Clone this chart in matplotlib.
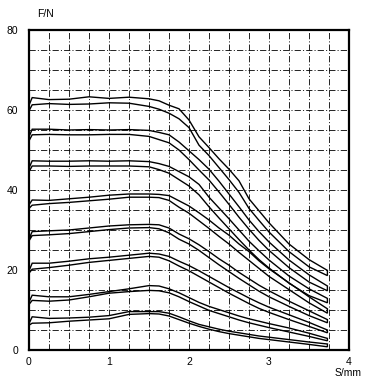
import matplotlib
matplotlib.use("Agg")
import matplotlib.pyplot as plt
from matplotlib.ticker import MultipleLocator

plt.rcParams['font.family'] = ['Liberation Sans', 'DejaVu Sans']
plt.rcParams['lines.scale_dashes'] = False

# common displacement grid (mm)
s_mm = [0.0, 0.04, 0.25, 0.5, 0.75, 1.0, 1.25, 1.5, 1.625, 1.75, 1.875, 2.0,
        2.125, 2.25, 2.375, 2.5, 2.625, 2.75, 2.875, 3.0, 3.25, 3.5, 3.73]

# force (N), upper and lower branch of each loop
f1_up = [61.2, 63.1, 62.6, 62.7, 63.3, 62.9, 63.2, 62.8, 62.3, 61.2, 60.3, 57.5,
         53.3, 50.6, 47.8, 45.2, 42.3, 37.8, 34.8, 31.8, 26.5, 22.6, 19.9]
f1_lo = [59.8, 61.3, 61.6, 61.4, 61.5, 61.8, 61.7, 60.9, 60.2, 59.2, 57.8, 55.6,
         51.2, 48.6, 45.6, 42.6, 39.4, 35.4, 32.4, 29.5, 24.6, 20.8, 18.6]
f2_up = [53.3, 55.2, 55.2, 55.0, 55.1, 55.0, 55.1, 54.9, 54.4, 53.8, 52.0, 49.8,
         47.6, 45.2, 42.2, 39.0, 35.8, 32.5, 29.6, 27.0, 22.5, 18.8, 16.0]
f2_lo = [52.3, 53.8, 53.9, 53.8, 53.8, 53.9, 53.9, 53.4, 52.6, 51.8, 50.0, 47.6,
         45.0, 42.5, 39.5, 36.4, 33.2, 30.2, 27.4, 24.9, 20.6, 17.0, 14.8]
f3_up = [45.5, 47.3, 47.2, 47.2, 47.3, 47.2, 47.3, 47.1, 46.6, 45.9, 44.6, 43.3,
         41.4, 38.2, 35.5, 32.8, 30.0, 27.2, 24.8, 22.5, 18.5, 15.3, 12.9]
f3_lo = [44.6, 46.0, 46.0, 45.9, 46.0, 46.0, 46.0, 45.8, 45.1, 44.2, 42.6, 41.0,
         38.8, 35.8, 33.0, 30.3, 27.6, 25.0, 22.6, 20.5, 16.7, 13.6, 11.8]
f4_up = [36.3, 37.5, 37.4, 37.8, 38.2, 38.7, 39.0, 39.0, 38.9, 38.6, 37.3, 36.0,
         34.3, 32.5, 30.5, 28.7, 26.5, 24.6, 22.3, 20.3, 16.8, 13.3, 10.3]
f4_lo = [35.4, 36.2, 36.6, 36.9, 37.3, 37.7, 38.2, 38.2, 38.1, 37.4, 35.7, 34.2,
         32.3, 30.4, 28.4, 26.5, 24.4, 22.4, 20.4, 18.4, 15.1, 11.8, 9.2]
f5_up = [27.8, 29.6, 29.8, 30.0, 30.5, 31.0, 31.3, 31.4, 31.3, 30.5, 29.0, 27.8,
         26.3, 24.6, 22.8, 21.2, 19.4, 17.8, 16.2, 14.8, 12.2, 9.8, 7.6]
f5_lo = [27.3, 28.6, 28.8, 29.1, 29.6, 30.1, 30.5, 30.6, 30.3, 29.3, 27.7, 26.5,
         24.9, 23.1, 21.3, 19.6, 17.9, 16.3, 14.7, 13.3, 10.9, 8.6, 6.8]
f6_up = [19.8, 21.7, 21.7, 22.2, 22.8, 23.2, 23.7, 24.2, 24.0, 23.4, 22.2, 21.1,
         19.8, 18.4, 17.0, 15.6, 14.3, 13.0, 11.8, 10.7, 8.8, 6.9, 5.0]
f6_lo = [19.2, 20.2, 20.6, 21.2, 21.9, 22.4, 22.9, 23.4, 23.2, 22.3, 21.0, 19.8,
         18.4, 17.0, 15.6, 14.2, 12.9, 11.6, 10.4, 9.4, 7.6, 5.9, 4.3]
f7_up = [12.0, 13.7, 13.3, 13.3, 13.9, 14.6, 15.3, 16.1, 16.0, 15.3, 14.3, 13.1,
         11.9, 10.9, 10.1, 9.3, 8.5, 7.8, 7.2, 6.6, 5.5, 4.2, 2.9]
f7_lo = [11.4, 12.4, 12.2, 12.5, 13.3, 14.2, 14.6, 14.9, 14.8, 14.3, 13.3, 12.1,
         11.0, 9.9, 9.1, 8.3, 7.5, 6.8, 6.2, 5.6, 4.5, 3.4, 2.3]
f8_up = [6.6, 8.3, 7.9, 8.0, 8.2, 8.6, 9.6, 9.6, 9.6, 9.2, 8.3, 7.3,
         6.4, 5.8, 5.2, 4.7, 4.3, 3.9, 3.5, 3.2, 2.6, 2.0, 1.5]
f8_lo = [6.2, 6.7, 6.8, 7.2, 7.5, 7.8, 8.9, 9.1, 9.0, 8.5, 7.6, 6.7,
         5.9, 5.2, 4.6, 4.1, 3.7, 3.3, 2.9, 2.6, 2.0, 1.4, 0.8]

x_ticks = [0, 1, 2, 3, 4]
y_ticks = [0, 20, 40, 60, 80]

loops = [(f1_up, f1_lo), (f2_up, f2_lo), (f3_up, f3_lo), (f4_up, f4_lo),
         (f5_up, f5_lo), (f6_up, f6_lo), (f7_up, f7_lo), (f8_up, f8_lo)]

fig = plt.figure(figsize=(3.84, 3.82), dpi=100)
ax = fig.add_axes([29 / 384, 32 / 382, 320 / 384, 320 / 382])

# dash-dot grid every 0.25 mm / 5 N
ax.xaxis.set_minor_locator(MultipleLocator(0.25))
ax.yaxis.set_minor_locator(MultipleLocator(5))
ax.grid(True, which='both', color='black', lw=0.6,
        linestyle=(0, (4.5, 1.5, 0.8, 1.5)))
ax.set_axisbelow(True)

for up, lo in loops:
    # upper branch out, lower branch back -> closed at the right end
    ax.plot(s_mm + s_mm[::-1], up + lo[::-1], color='black', lw=1.0,
            solid_joinstyle='miter')

ax.set_xlim(0, 4)
ax.set_ylim(0, 80)
ax.set_xticks(x_ticks)
ax.set_yticks(y_ticks)
ax.set_xticklabels([str(v) for v in x_ticks])
ax.set_yticklabels([str(v) for v in y_ticks])
ax.tick_params(which='both', length=0, labelsize=7.5)
ax.tick_params(axis='x', pad=5)
ax.tick_params(axis='y', pad=8)
for sp in ax.spines.values():
    sp.set_linewidth(1.6)

fig.text(46 / 384, 1 - 14 / 382, 'F/N', fontsize=7.5, ha='center', va='center')
fig.text(348 / 384, 1 - 373 / 382, 'S/mm', fontsize=7.5, ha='center', va='center')

fig.savefig('out.png', dpi=100)
